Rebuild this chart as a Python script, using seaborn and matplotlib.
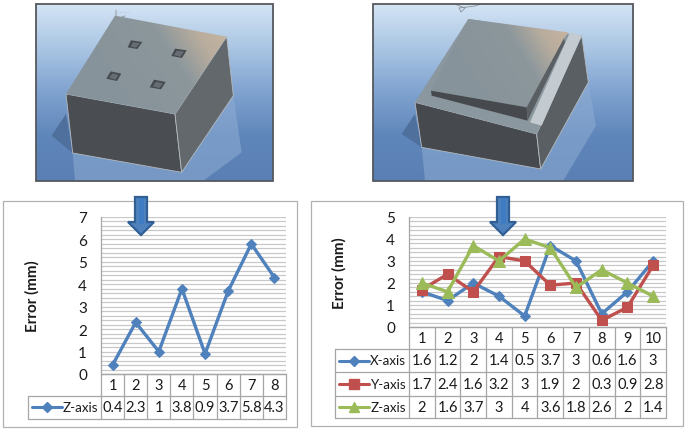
import numpy as np
import pandas as pd
import matplotlib
matplotlib.use('Agg')
import matplotlib.pyplot as plt
from matplotlib.patches import Polygon, Rectangle
from matplotlib.colors import LinearSegmentedColormap
import seaborn as sns

# values, from the tables under the charts
left_cats = [1, 2, 3, 4, 5, 6, 7, 8]
left_z = [0.4, 2.3, 1, 3.8, 0.9, 3.7, 5.8, 4.3]
right_cats = [1, 2, 3, 4, 5, 6, 7, 8, 9, 10]
right_x = [1.6, 1.2, 2, 1.4, 0.5, 3.7, 3, 0.6, 1.6, 3]
right_y = [1.7, 2.4, 1.6, 3.2, 3, 1.9, 2, 0.3, 0.9, 2.8]
right_z = [2, 1.6, 3.7, 3, 4, 3.6, 1.8, 2.6, 2, 1.4]
left_ticks = [0, 1, 2, 3, 4, 5, 6, 7]
right_ticks = [0, 1, 2, 3, 4, 5]

blue = '#4f81bd'
red = '#c0504d'
green = '#9bbb59'
grid_c = '#c8c8c8'
table_c = '#a6a6a6'
text_c = '#1a1a1a'
font = 'Lato'
W, H = 685, 431

sns.set_style('white')
plt.rcParams['font.family'] = font

fig = plt.figure(figsize=(W / 100, H / 100), dpi=100)

# page layer in pixel coordinates, for frames, photos and tables
page = fig.add_axes([0, 0, 1, 1], zorder=0)
page.set_xlim(0, W)
page.set_ylim(H, 0)
page.axis('off')


def axes_at(x0, x1, y0, y1):
    return fig.add_axes([x0 / W, 1 - y1 / H, (x1 - x0) / W, (y1 - y0) / H], zorder=2)


def style_chart(ax, n, ymax, ticks):
    ax.set_xlim(0.5, n + 0.5)
    ax.set_ylim(0, ymax)
    ax.patch.set_alpha(0)
    ax.set_yticks(ticks)
    ax.set_yticks(np.arange(0, ymax + 0.01, 0.2), minor=True)
    ax.grid(which='both', axis='y', color=grid_c, lw=0.9)
    ax.set_axisbelow(True)
    ax.set_xticks([])
    ax.set_xlabel('')
    ax.tick_params(axis='y', which='both', length=0, labelsize=11, labelcolor=text_c, pad=10)
    for s in ['top', 'right']:
        ax.spines[s].set_visible(False)
    for s in ['left', 'bottom']:
        ax.spines[s].set_color(table_c)
        ax.spines[s].set_linewidth(0.9)
    ax.set_ylabel('Error (mm)', fontsize=11, fontweight='bold', color=text_c)


def table(x_leg, x0, x1, rows_y, cats, series):
    # rows_y: top of the category row, then the bottom of each row
    n = len(cats)
    cw = (x1 - x0) / n
    for i in range(n + 1):
        page.plot([x0 + i * cw] * 2, [rows_y[0], rows_y[-1]], color=table_c, lw=0.9)
    page.plot([x_leg, x_leg], [rows_y[1], rows_y[-1]], color=table_c, lw=0.9)
    for k, y in enumerate(rows_y):
        page.plot([x0 if k == 0 else x_leg, x1], [y, y], color=table_c, lw=0.9)
    for i, c in enumerate(cats):
        page.text(x0 + (i + 0.5) * cw, (rows_y[0] + rows_y[1]) / 2, str(c), ha='center',
                  va='center', fontsize=10.5, color=text_c)
    for r, (name, vals, color, marker, ms) in enumerate(series):
        yc = (rows_y[r + 1] + rows_y[r + 2]) / 2
        page.plot([x_leg + 4, x_leg + 34], [yc, yc], color=color, lw=2.2)
        page.plot([x_leg + 19], [yc], color=color, marker=marker, ms=ms, mec=color)
        page.text(x0 - 3, yc, name, ha='right', va='center', fontsize=9.6, color=text_c)
        for i, v in enumerate(vals):
            page.text(x0 + (i + 0.5) * cw, yc, f'{v:g}', ha='center', va='center',
                      fontsize=10.5, color=text_c)


def zoomed(pts, ox):
    return [(ox + px / 3, py / 3) for px, py in pts]


def poly(pts, ox, color, z=2, alpha=1, ec='none', lw=0):
    p = Polygon(zoomed(pts, ox), closed=True, fc=color, ec=ec, lw=lw, alpha=alpha, zorder=z)
    page.add_patch(p)
    return p


def photo(x0, x1, y0, y1):
    cmap = LinearSegmentedColormap.from_list('bg', ['#d3e3f4', '#a9c5e3', '#7fa2cf', '#5f86ba', '#5a7fb4'])
    page.imshow(np.linspace(0, 1, 100).reshape(-1, 1), extent=(x0, x1, y1, y0), aspect='auto',
                cmap=cmap, zorder=1)
    page.set_xlim(0, W)
    page.set_ylim(H, 0)
    page.add_patch(Rectangle((x0, y0), x1 - x0, y1 - y0, fc='none', ec='#55585e', lw=1.3, zorder=5))


def lit_face(pts, ox):
    # grey face that warms up towards the upper right
    cmap = LinearSegmentedColormap.from_list('top', [(0, '#87939a'), (0.55, '#8c979c'), (0.8, '#b9ad9e'),
                                                     (1, '#c8b5a0')])
    xy = np.array(zoomed(pts, ox))
    g = np.linspace(0, 1, 100).reshape(1, -1) + np.linspace(0.05, -0.35, 100).reshape(-1, 1)
    im = page.imshow(np.clip(g, 0, 1), extent=(xy[:, 0].min(), xy[:, 0].max(), xy[:, 1].max(), xy[:, 1].min()),
                     aspect='auto', cmap=cmap, vmin=0, vmax=1, zorder=3)
    im.set_clip_path(Polygon(xy, closed=True, transform=page.transData))
    page.set_xlim(0, W)
    page.set_ylim(H, 0)


# left photo, plain block with four holes
photo(36, 273, 5, 182)
poly([(155, 410), (198, 345), (218, 462)], 0, '#4f6f9c', z=2)
poly([(218, 462), (545, 520), (700, 290), (725, 460), (610, 545), (225, 545)], 0, '#8fadd3', z=2, alpha=0.55)
poly([(198, 285), (525, 345), (545, 520), (218, 462)], 0, '#4a4e52', z=3, ec='#b5bcc2', lw=0.6)
poly([(680, 113), (700, 290), (545, 520), (525, 345)], 0, '#62686c', z=3, ec='#b5bcc2', lw=0.6)
lit_face([(345, 50), (680, 113), (525, 345), (198, 285)], 0)
for hole, floor in (([(393, 124), (427, 129), (412, 150), (383, 145)], [(398, 130), (420, 132), (408, 146), (392, 143)]),
                    ([(525, 149), (560, 154), (546, 177), (514, 171)], [(530, 155), (552, 158), (541, 173), (522, 168)]),
                    ([(332, 217), (364, 224), (351, 246), (319, 239)], [(338, 223), (356, 228), (346, 242), (327, 236)]),
                    ([(462, 242), (497, 249), (483, 271), (449, 265)], [(468, 248), (489, 253), (478, 267), (458, 262)])):
    poly(hole, 0, '#454a4f', z=4)
    poly(floor, 0, '#666d73', z=4)
page.plot([116, 116, 125], [11, 20, 17], color='#8d939a', lw=0.6, zorder=4)
page.text(118, 13.5, '· · · · · ·', fontsize=3, color='#8d939a', zorder=4, va='center')

# right photo, stepped block
photo(373, 633, 5, 182)
poly([(125, 405), (165, 345), (185, 445)], 360, '#4f6f9c', z=2)
poly([(185, 445), (540, 510), (685, 250), (708, 380), (610, 545), (195, 545)], 360, '#8fadd3', z=2, alpha=0.55)
poly([(165, 310), (530, 405), (542, 510), (185, 445)], 360, '#46494d', z=3, ec='#b5bcc2', lw=0.6)
poly([(665, 110), (685, 250), (542, 510), (530, 405)], 360, '#5a5f63', z=3, ec='#b5bcc2', lw=0.6)
poly([(325, 60), (665, 110), (530, 405), (165, 310)], 360, '#8b979e', z=3)
poly([(630, 100), (665, 110), (545, 380), (510, 370)], 360, '#c3cbd0', z=3)
lit_face([(325, 60), (625, 100), (612, 118), (500, 325), (213, 275)], 360)
poly([(213, 275), (500, 325), (503, 365), (215, 290)], 360, '#46494d', z=4)
poly([(612, 118), (615, 130), (503, 365), (500, 325)], 360, '#5a5f63', z=4)
page.plot([457, 465, 461, 459, 475, 481], [6, 9, 13, 9, 7, 5], color='#8d939a', lw=0.6, zorder=4)

# chart frames
page.add_patch(Rectangle((3, 202), 294, 226, fc='white', ec='#b0b0b0', lw=0.9, zorder=1))
page.add_patch(Rectangle((311, 202), 372, 225, fc='white', ec='#b0b0b0', lw=0.9, zorder=1))

# left chart
ax1 = axes_at(101, 286, 218, 375)
df1 = pd.DataFrame({'x': left_cats, 'y': left_z})
sns.lineplot(data=df1, x='x', y='y', ax=ax1, color=blue, lw=2.4, marker='D', ms=5, mec=blue,
             errorbar=None, clip_on=False)
style_chart(ax1, len(left_cats), 7, left_ticks)
ax1.yaxis.set_label_coords(-0.33, 0.5)
table(28, 101, 286, [375, 397, 420], left_cats, [('Z-axis', left_z, blue, 'D', 5)])

# right chart
ax2 = axes_at(409, 666, 218, 328)
for vals, color, marker, ms in [(right_x, blue, 'D', 5), (right_y, red, 's', 7.5), (right_z, green, '^', 8)]:
    df2 = pd.DataFrame({'x': right_cats, 'y': vals})
    sns.lineplot(data=df2, x='x', y='y', ax=ax2, color=color, lw=2.4, marker=marker, ms=ms, mec=color,
                 errorbar=None, clip_on=False)
style_chart(ax2, len(right_cats), 5, right_ticks)
ax2.yaxis.set_label_coords(-0.241, 0.5)
table(335, 409, 666, [328, 350, 373, 397, 419], right_cats,
      [('X-axis', right_x, blue, 'D', 5), ('Y-axis', right_y, red, 's', 7), ('Z-axis', right_z, green, '^', 7.5)])

# down arrows between the photos and the charts
top = fig.add_axes([0, 0, 1, 1], zorder=4)
top.set_xlim(0, W)
top.set_ylim(H, 0)
top.axis('off')
for cx in [141, 503]:
    top.add_patch(Polygon([(cx - 6, 198), (cx + 6, 198), (cx + 6, 223), (cx + 13, 223), (cx, 236), (cx - 13, 223),
                           (cx - 6, 223)], closed=True, fc=blue, ec='#2f5f95', lw=1.6, joinstyle='miter'))
    top.add_patch(Polygon([(cx - 2, 199), (cx + 3, 199), (cx + 3, 225), (cx - 2, 225)], closed=True, fc='#3f7cc4', ec='none'))

fig.savefig('out.png', dpi=100)
